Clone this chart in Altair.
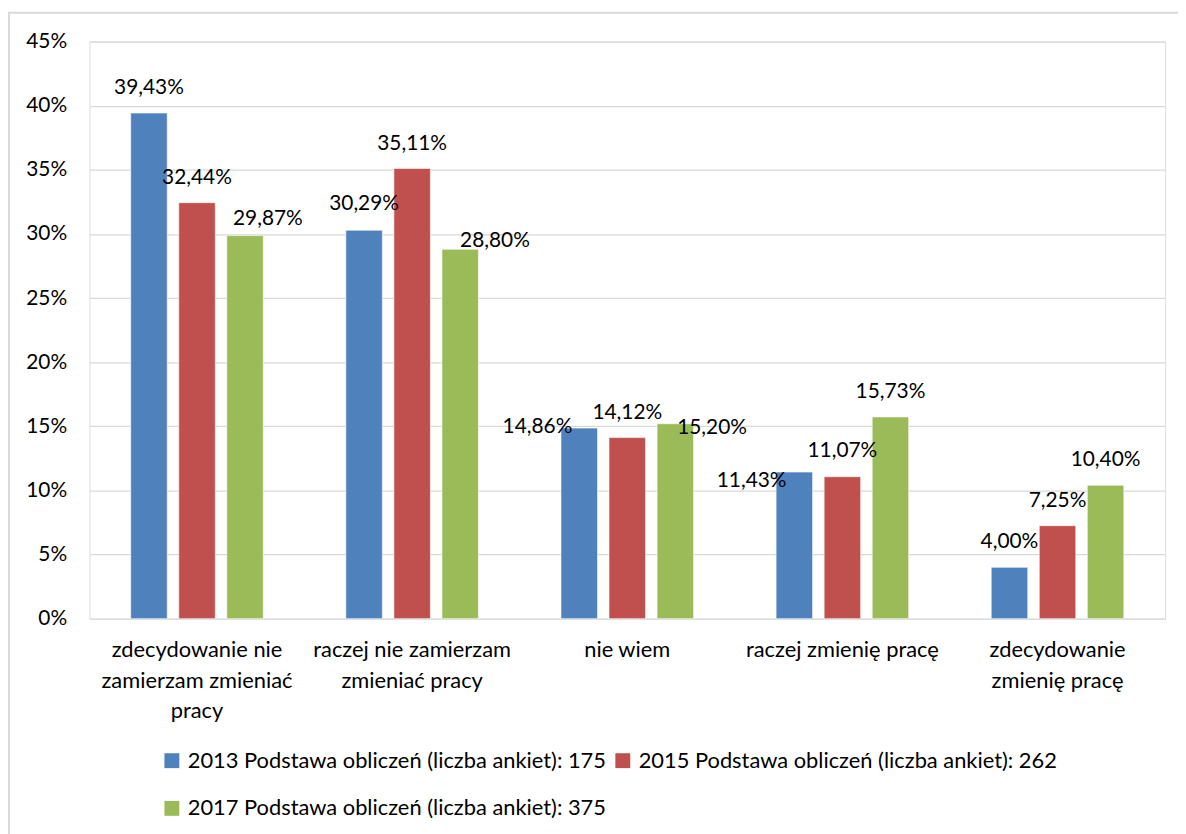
import altair as alt
import pandas as pd

categories = [
    "zdecydowanie nie\nzamierzam zmieniać\npracy",
    "raczej nie zamierzam\nzmieniać pracy",
    "nie wiem",
    "raczej zmienię pracę",
    "zdecydowanie\nzmienię pracę",
]
series = [
    "2013 Podstawa obliczeń (liczba ankiet): 175",
    "2015 Podstawa obliczeń (liczba ankiet): 262",
    "2017 Podstawa obliczeń (liczba ankiet): 375",
]
v2013 = [39.43, 30.29, 14.86, 11.43, 4.00]
v2015 = [32.44, 35.11, 14.12, 11.07, 7.25]
v2017 = [29.87, 28.80, 15.20, 15.73, 10.40]
colors = ["#4F81BD", "#C0504D", "#9BBB59"]
y_ticks = [0, 5, 10, 15, 20, 25, 30, 35, 40, 45]

# manual nudges of the value labels (px), as moved in the original chart
nudge_x = {
    series[0]: [0, 0, -42, -43, 0],
    series[1]: [0, 0, 0, 0, 0],
    series[2]: [23, 35, 37, 0, 0],
}
nudge_y = {
    series[0]: [0, -1, 24, 34, 0],
    series[1]: [0, 0, 0, -1, 0],
    series[2]: [8, 17, 29, 0, 0],
}

rows = []
for s, vals in zip(series, [v2013, v2015, v2017]):
    for i, (c, v) in enumerate(zip(categories, vals)):
        rows.append({"cat": c, "series": s, "value": v,
                     "label": f"{v:.2f}%".replace(".", ","),
                     "ndx": nudge_x[s][i], "ndy": nudge_y[s][i]})
df = pd.DataFrame(rows)

FONT = "Lato"

x = alt.X("cat:N", sort=categories, title=None,
          scale=alt.Scale(paddingInner=0.33, paddingOuter=0.165),
          axis=alt.Axis(labelExpr="split(datum.label, '\\n')", labelAngle=0,
                        labelPadding=21, labelLineHeight=31, labelFontSize=22,
                        labelFont=FONT, labelColor="#000000", labelBaseline="top",
                        labelLimit=400,
                        domain=False, ticks=False, grid=False))
xo = alt.XOffset("series:N", sort=series,
                 scale=alt.Scale(paddingInner=0.24, paddingOuter=0.12))
y = alt.Y("value:Q", title=None,
          scale=alt.Scale(domain=[0, 45], nice=False),
          axis=alt.Axis(values=y_ticks, labelExpr="datum.value + '%'",
                        labelFontSize=21, labelFont=FONT, labelColor="#000000",
                        labelPadding=23, domain=False, ticks=False,
                        gridColor="#d9d9d9", gridWidth=1.3))

base = alt.Chart(df)
bars = base.mark_bar(stroke="white", strokeWidth=1, strokeOpacity=0.6).encode(
    x=x, xOffset=xo, y=y,
    color=alt.Color("series:N", sort=series,
                    scale=alt.Scale(domain=series, range=colors),
                    legend=alt.Legend(title=None, orient="none", legendX=72, legendY=713,
                                      direction="horizontal", columns=2,
                                      symbolType="square", symbolSize=225,
                                      symbolStrokeWidth=0, labelFont=FONT,
                                      labelFontSize=22, labelColor="#000000",
                                      labelOffset=5, columnPadding=5, rowPadding=26,
                                      labelLimit=600, padding=0)),
)
labels = base.mark_text(baseline="middle", align="center",
                        dx=alt.expr("datum.ndx"), dy=alt.expr("datum.ndy - 25"),
                        font=FONT, fontSize=21, color="#000000").encode(
    x=x, xOffset=xo, y=y, text="label:N",
)

frame = alt.Chart(pd.DataFrame({"a": [0]})).mark_rect(
    fill=None, stroke="#d9d9d9", strokeWidth=2
).encode(x=alt.value(-81), x2=alt.value(1300), y=alt.value(-29), y2=alt.value(900))

chart = alt.layer(frame, bars, labels).properties(
    width=1083, height=581,
    autosize=alt.AutoSizeParams(type="none"),
    padding={"left": 82, "top": 31, "right": 13, "bottom": 214},
).configure_view(stroke=None).configure(background="white")

chart.save("out.html", embed_options={"renderer": "svg", "actions": False})
